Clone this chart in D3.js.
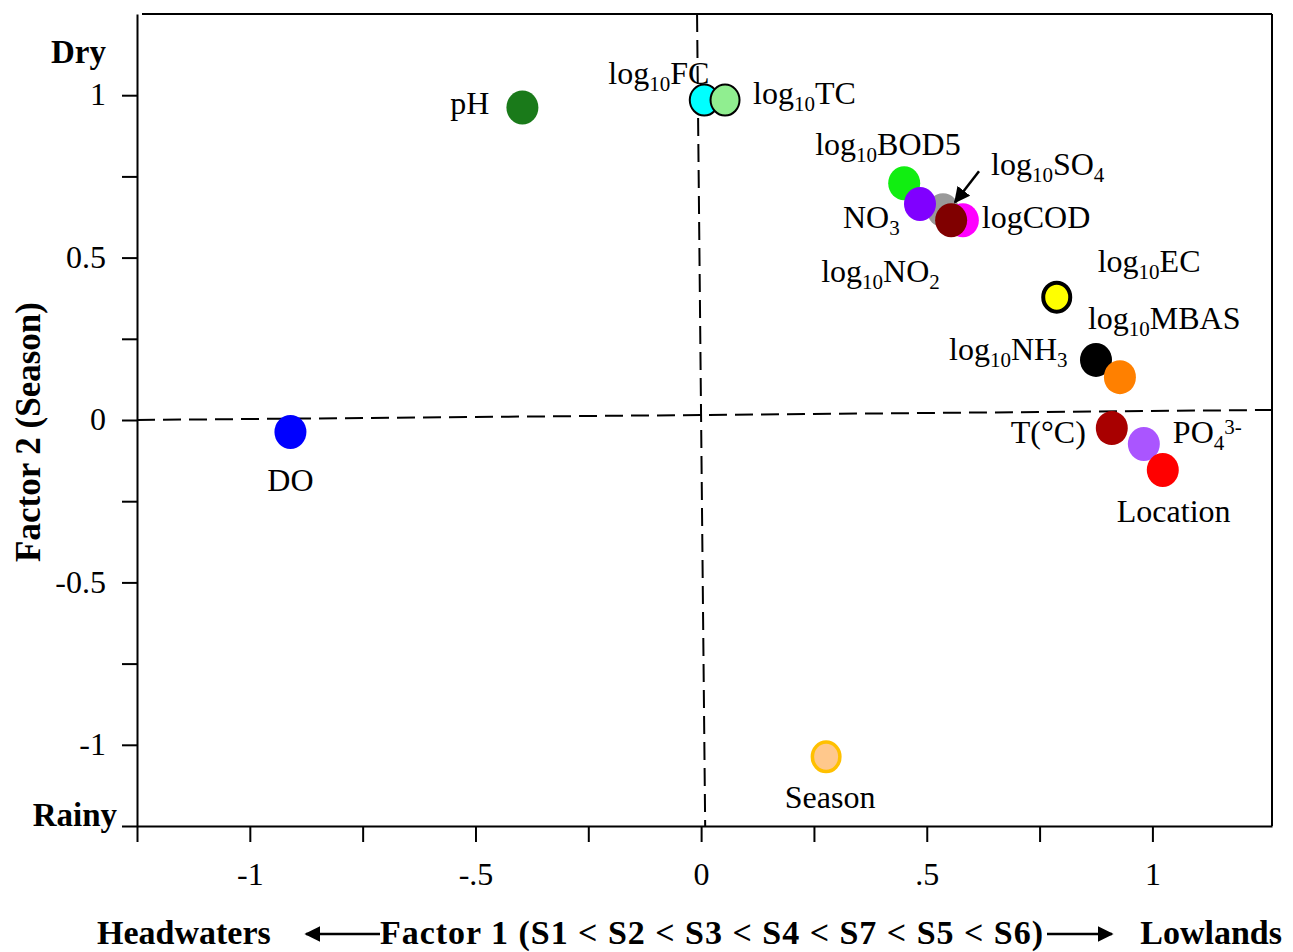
<!DOCTYPE html>
<html lang="en">
<head>
<meta charset="UTF-8">
<title>Factor loadings</title>
<script src="https://d3js.org/d3.v7.min.js"></script>
<style>
  * { margin: 0; padding: 0; }
  body { background: #fff; width: 1293px; height: 952px; overflow: hidden; }
  svg text { font-family: "Liberation Serif", "Times New Roman", serif; fill: #000; }
</style>
</head>
<body>
<svg id="chart" width="1293" height="952"></svg>
<script>
// variables, drawing order
const names = ["DO", "pH", "log_{10}FC", "log_{10}TC", "log_{10}BOD5", "log_{10}SO_{4}", "NO_{3}",
  "logCOD", "log_{10}NO_{2}", "log_{10}EC", "log_{10}NH_{3}", "log_{10}MBAS", "T(°C)", "PO_{4}^{3-}", "Location", "Season"];
const factor1 = [-0.910, -0.396, 0.007, 0.053, 0.450, 0.536, 0.485, 0.580, 0.554, 0.788, 0.875, 0.928, 0.910, 0.981, 1.023, 0.277];
const factor2 = [-0.037, 0.962, 0.985, 0.985, 0.729, 0.646, 0.665, 0.615, 0.615, 0.378, 0.185, 0.132, -0.025, -0.074, -0.154, -1.037];

const xTicks = [-1.25, -1, -0.75, -0.5, -0.25, 0, 0.25, 0.5, 0.75, 1];
const xTickLabels = { "-1": "-1", "-0.5": "-.5", "0": "0", "0.5": ".5", "1": "1" };
const yTicks = [-1.25, -1, -0.75, -0.5, -0.25, 0, 0.25, 0.5, 0.75, 1];
const yTickLabels = { "-1": "-1", "-0.5": "-0.5", "0": "0", "0.5": "0.5", "1": "1" };

// styles
const fills = ["#0000ff", "#1a7a1a", "#00ffff", "#90ee90", "#11ee11", "#999999", "#8000ff",
  "#ff00ff", "#800000", "#ffff00", "#000000", "#ff8000", "#a80000", "#aa55ff", "#ff0000", "#ffc88c"];
const strokes = [null, null, "#000", "#000", null, null, null, null, null, "#000", null, null, null, null, null, "#ffc000"];
const strokeW = [0, 0, 2, 2, 0, 0, 0, 0, 0, 4, 0, 0, 0, 0, 0, 3.5];
// label offsets in px from the marker, and anchor
const labDx = [0, -33, -96, 28, -89, 48, -77, 19, -130, 41, -147, -32, -26, 29, -46, 4];
const labDy = [59, 6, -16, 4, -28, -35, 24, 8, 62, -25, 0, -48, 15, -1, 52, 51];
const labAnchor = ["middle", "end", "start", "start", "start", "start", "start", "start", "start",
  "start", "start", "start", "end", "start", "start", "middle"];

const svg = d3.select("#chart");
const x = d3.scaleLinear().domain([-1.25, 1.265]).range([137, 1272]);
const y = d3.scaleLinear().domain([-1.25, 1.25]).range([826, 14]);

// frame
svg.append("line").attr("x1", 142).attr("x2", x(1.265)).attr("y1", y(1.25)).attr("y2", y(1.25))
  .attr("stroke", "#000").attr("stroke-width", 2);
svg.append("line").attr("x1", x(1.265)).attr("x2", x(1.265)).attr("y1", y(1.25)).attr("y2", y(-1.25))
  .attr("stroke", "#000").attr("stroke-width", 2);

// axes
const xAxis = svg.append("g").attr("transform", `translate(0,${y(-1.25)})`)
  .call(d3.axisBottom(x).tickValues(xTicks).tickSize(16).tickSizeOuter(0)
    .tickFormat(d => xTickLabels[String(d)] || ""));
const yAxis = svg.append("g").attr("transform", `translate(${x(-1.25)},0)`)
  .call(d3.axisLeft(y).tickValues(yTicks).tickSize(15).tickSizeOuter(0)
    .tickFormat(d => yTickLabels[String(d)] || ""));
[xAxis, yAxis].forEach(a => {
  a.selectAll("path, line").attr("stroke", "#000").attr("stroke-width", 2);
  a.selectAll("text").attr("font-family", "Liberation Serif, serif").attr("font-size", 32).attr("fill", "#000");
});
xAxis.selectAll("text").attr("y", 36);
yAxis.selectAll("text").attr("x", -31).attr("dy", "0.3em");

// dashed reference lines
svg.append("line").attr("x1", x(-0.009)).attr("y1", y(1.25)).attr("x2", x(0.009)).attr("y2", y(-1.25))
  .attr("stroke", "#000").attr("stroke-width", 2).attr("stroke-dasharray", "18,8");
svg.append("line").attr("x1", x(-1.25)).attr("y1", y(0)).attr("x2", x(1.265)).attr("y2", y(0.031))
  .attr("stroke", "#000").attr("stroke-width", 2).attr("stroke-dasharray", "18,8");

// markers
const idx = d3.range(names.length);
svg.append("g").selectAll("ellipse").data(idx).join("ellipse")
  .attr("cx", i => x(factor1[i])).attr("cy", i => y(factor2[i]))
  .attr("rx", i => strokes[i] ? 15.5 - strokeW[i] / 2 : 16)
  .attr("ry", i => strokes[i] ? 16.5 - strokeW[i] / 2 : 17)
  .attr("fill", i => fills[i])
  .attr("stroke", i => strokes[i] || "none")
  .attr("stroke-width", i => strokeW[i]);

// labels with sub/superscripts
function addLabel(g, str) {
  const re = /(_\{[^}]*\}|\^\{[^}]*\}|[^_^]+)/g;
  let m, shift = 0;
  while ((m = re.exec(str)) !== null) {
    const tok = m[0];
    let target = 0, txt = tok, size = 32;
    if (tok.startsWith("_{")) { target = 7; txt = tok.slice(2, -1); size = 21; }
    else if (tok.startsWith("^{")) { target = -9; txt = tok.slice(2, -1); size = 21; }
    g.append("tspan").attr("dy", target - shift).attr("font-size", size).text(txt);
    shift = target;
  }
}
const labels = svg.append("g");
idx.forEach(i => {
  const t = labels.append("text")
    .attr("x", x(factor1[i]) + labDx[i]).attr("y", y(factor2[i]) + labDy[i])
    .attr("text-anchor", labAnchor[i]).attr("font-size", 32);
  addLabel(t, names[i]);
});

// arrow to SO4
const defs = svg.append("defs");
defs.append("marker").attr("id", "ah").attr("viewBox", "0 0 10 10").attr("refX", 9).attr("refY", 5)
  .attr("markerWidth", 7).attr("markerHeight", 7).attr("markerUnits", "userSpaceOnUse")
  .attr("orient", "auto")
  .append("path").attr("d", "M0,0 L10,5 L0,10 z").attr("fill", "#000");
defs.select("marker").attr("markerWidth", 16).attr("markerHeight", 16);
const so4 = 5;
svg.append("line")
  .attr("x1", x(factor1[so4]) + 36).attr("y1", y(factor2[so4]) - 39)
  .attr("x2", x(factor1[so4]) + 12).attr("y2", y(factor2[so4]) - 8)
  .attr("stroke", "#000").attr("stroke-width", 2.5).attr("marker-end", "url(#ah)");

// axis titles
svg.append("text").attr("transform", "translate(40,432) rotate(-90)")
  .attr("text-anchor", "middle").attr("font-size", 35).attr("font-weight", "bold")
  .text("Factor 2 (Season)");
svg.append("text").attr("x", 106).attr("y", 63).attr("text-anchor", "end")
  .attr("font-size", 33).attr("font-weight", "bold").text("Dry");
svg.append("text").attr("x", 117).attr("y", 826).attr("text-anchor", "end")
  .attr("font-size", 33).attr("font-weight", "bold").text("Rainy");

const by = 944;
svg.append("text").attr("x", 97).attr("y", by).attr("font-size", 34).attr("font-weight", "bold").text("Headwaters");
svg.append("text").attr("x", 380).attr("y", by).attr("font-size", 34).attr("font-weight", "bold")
  .attr("textLength", 663).attr("lengthAdjust", "spacing")
  .text("Factor 1 (S1 < S2 < S3 < S4 < S7 < S5 < S6)");
svg.append("text").attr("x", 1282).attr("y", by).attr("text-anchor", "end")
  .attr("font-size", 34).attr("font-weight", "bold").text("Lowlands");
svg.append("line").attr("x1", 380).attr("y1", 934).attr("x2", 306).attr("y2", 934)
  .attr("stroke", "#000").attr("stroke-width", 2.5).attr("marker-end", "url(#ah)");
svg.append("line").attr("x1", 1047).attr("y1", 934).attr("x2", 1112).attr("y2", 934)
  .attr("stroke", "#000").attr("stroke-width", 2.5).attr("marker-end", "url(#ah)");
</script>
</body>
</html>
